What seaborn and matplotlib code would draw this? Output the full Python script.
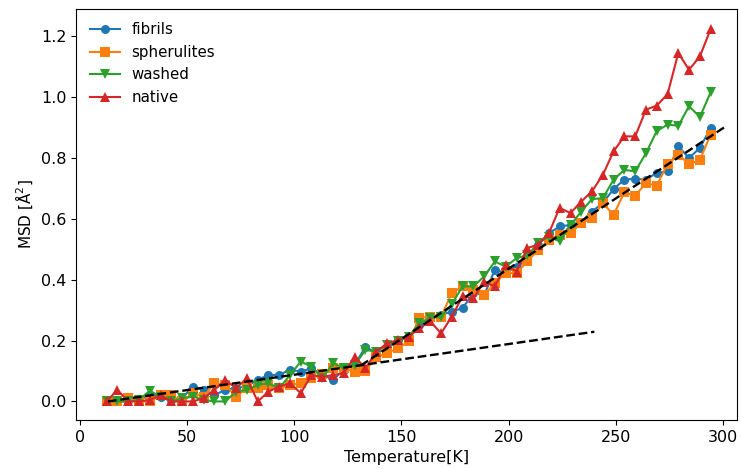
import pandas as pd
import seaborn as sns
import matplotlib
matplotlib.use("Agg")
import matplotlib.pyplot as plt

# temperatures (K) of the measurement points
temperature = [12.4, 17.4, 22.5, 27.5, 32.5, 37.6, 42.6, 47.6, 52.7, 57.7,
               62.7, 67.8, 72.8, 77.8, 82.9, 87.9, 92.9, 98.0, 103.0, 108.0,
               113.1, 118.1, 123.1, 128.2, 133.2, 138.3, 143.3, 148.3, 153.4, 158.4,
               163.4, 168.5, 173.5, 178.5, 183.6, 188.6, 193.6, 198.7, 203.7, 208.7,
               213.8, 218.8, 223.8, 228.9, 233.9, 238.9, 244.0, 249.0, 254.0, 259.1,
               264.1, 269.1, 274.2, 279.2, 284.2, 289.3, 294.3]

fibrils = [0.0, 0.0, 0.0, 0.005, 0.02, 0.015, 0.005, 0.01, 0.049,
           0.038, 0.021, 0.038, 0.044, 0.049, 0.071, 0.087, 0.087, 0.104, 0.098, 0.109, 0.088,
           0.071, 0.104, 0.12, 0.18, 0.158, 0.175, 0.202, 0.213, 0.252, 0.279, 0.285,
           0.295, 0.307, 0.356, 0.35, 0.433, 0.422, 0.443, 0.465, 0.515, 0.553, 0.575, 0.58, 0.591, 0.624,
           0.652, 0.698, 0.729, 0.732, 0.729, 0.751, 0.756, 0.838, 0.80, 0.833, 0.899]

spherulites = [0.0, 0.0, 0.01, 0.0, 0.0, 0.02, 0.02, 0.0, 0.027,
               0.016, 0.06, 0.054, 0.016, 0.043, 0.043, 0.054, 0.043, 0.054, 0.06, 0.076, 0.09,
               0.109, 0.109, 0.098, 0.101, 0.147, 0.158, 0.175, 0.197, 0.274, 0.279, 0.279,
               0.356, 0.378, 0.367, 0.35, 0.389, 0.422, 0.422, 0.46, 0.498, 0.531, 0.548, 0.553, 0.586, 0.603,
               0.652, 0.613, 0.687, 0.676, 0.718, 0.709, 0.78, 0.811, 0.78, 0.794, 0.877]

washed = [0.0, 0.0, 0.0, 0.005, 0.035, 0.015, 0.0, 0.01, 0.016,
          0.005, 0.0, 0.0, 0.032, 0.038, 0.054, 0.06, 0.043, 0.087, 0.131, 0.114, 0.076,
          0.126, 0.109, 0.12, 0.169, 0.164, 0.186, 0.197, 0.213, 0.257, 0.274, 0.279,
          0.32, 0.378, 0.378, 0.411, 0.46, 0.443, 0.471, 0.48, 0.52, 0.542, 0.526, 0.58, 0.624, 0.665,
          0.668, 0.729, 0.761, 0.756, 0.816, 0.888, 0.91, 0.906, 0.970, 0.935, 1.016]

native = [0.0, 0.038, 0.0, 0.0, 0.005, 0.02, 0.0, 0.0, 0.0,
          0.011, 0.038, 0.071, 0.043, 0.076, 0.0, 0.032, 0.049, 0.06, 0.027, 0.087, 0.08,
          0.087, 0.093, 0.147, 0.109, 0.164, 0.191, 0.202, 0.213, 0.241, 0.263, 0.224,
          0.279, 0.345, 0.339, 0.394, 0.378, 0.449, 0.427, 0.504, 0.515, 0.553, 0.636, 0.619, 0.657, 0.69,
          0.745, 0.822, 0.871, 0.871, 0.959, 0.972, 1.01, 1.145, 1.09, 1.134, 1.224]

# linear fits (low and high temperature regime)
fit_low_T = [13, 240]
fit_low_msd = [0.0, 0.229]
fit_high_T = [131, 300.5]
fit_high_msd = [0.118, 0.90]

samples = ["fibrils", "spherulites", "washed", "native"]
colors = ["#1f77b4", "#ff7f0e", "#2ca02c", "#d62728"]
marker_types = ["o", "s", "v", "^"]

#build long form dataframe
frames = []
for name, vals in zip(samples, [fibrils, spherulites, washed, native]):
    frames.append(pd.DataFrame({"Temperature": temperature, "MSD": vals, "sample": name}))
df = pd.concat(frames, ignore_index=True)

plt.rcParams["font.family"] = ["DejaVu Sans"]
plt.rcParams["font.size"] = 11

fig, ax = plt.subplots(figsize=(7.41, 4.69), dpi=100)
fig.subplots_adjust(left=0.1026, right=0.9946, top=0.981, bottom=0.1045)

sns.lineplot(data=df, x="Temperature", y="MSD", hue="sample", style="sample",
             hue_order=samples, style_order=samples, palette=colors,
             markers=dict(zip(samples, marker_types)), dashes=False,
             markersize=6.5, markeredgewidth=0, linewidth=1.5, ax=ax)

#dashed fit lines
sns.lineplot(x=fit_low_T, y=fit_low_msd, color="black", linestyle="--", linewidth=1.7, ax=ax)
sns.lineplot(x=fit_high_T, y=fit_high_msd, color="black", linestyle="--", linewidth=1.7, ax=ax)

ax.set_xlim(-1.9, 306.6)
ax.set_ylim(-0.061, 1.29)
ax.set_xticks([0, 50, 100, 150, 200, 250, 300])
ax.set_yticks([0.0, 0.2, 0.4, 0.6, 0.8, 1.0, 1.2])
ax.set_yticklabels(["0.0", "0.2", "0.4", "0.6", "0.8", "1.0", "1.2"])
ax.tick_params(labelsize=11.5)
ax.set_xlabel("Temperature[K]", fontsize=11.5)
ax.set_ylabel("MSD [Å$^2$]", fontsize=11)

handles, labels = ax.get_legend_handles_labels()
ax.legend(handles[:4], labels[:4], loc="upper left", frameon=False, fontsize=10.8)

fig.savefig("out.png", dpi=100)
